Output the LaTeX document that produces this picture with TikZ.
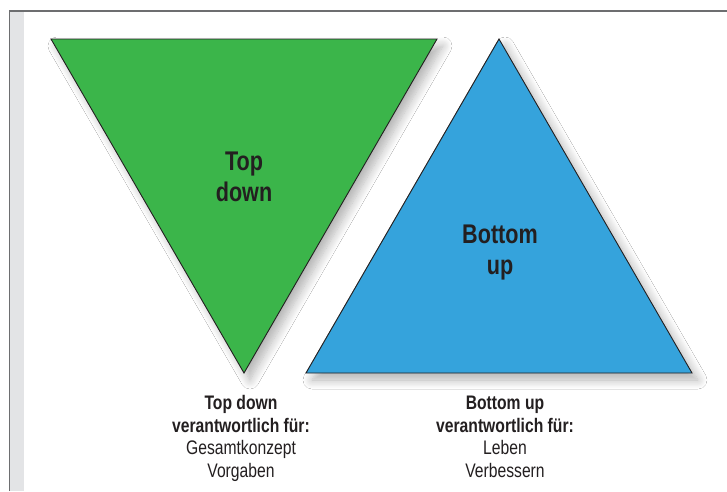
\documentclass[tikz,border=0pt]{standalone}
\usepackage{fontspec}
\setmainfont{Liberation Sans}[FakeStretch=0.8]
\usetikzlibrary{shadows.blur}
\definecolor{tdgreen}{HTML}{3BB54A}
\definecolor{bublue}{HTML}{35A3DC}
\definecolor{ink}{HTML}{231F20}
\definecolor{frameline}{HTML}{6D6E70}
\definecolor{framebar}{HTML}{E3E4E6}
\tikzset{
  tri/.style={draw=ink, line width=0.9pt, line join=miter,
    blur shadow={shadow xshift=6pt, shadow yshift=-7pt, shadow blur radius=9pt, shadow blur steps=12, shadow opacity=30}},
  biglabel/.style={text=ink, font=\bfseries\fontsize{27}{31}\selectfont, align=center, anchor=base, inner sep=0pt},
  caption/.style={text=ink, font=\fontsize{19.6}{22.4}\selectfont, align=center, anchor=base, inner sep=0pt}
}
\begin{document}
\begin{tikzpicture}[x=1pt,y=-1pt]
  \useasboundingbox (0,0) rectangle (727,491);
  \fill[white] (0,0) rectangle (727,491);
  % frame: grey side bar with dark rules
  \fill[framebar] (9,11) rectangle (24,491);
  \draw[frameline, line width=1.4pt] (9.2,491) -- (9.2,11) -- (727,11);
  % the two triangles
  \path[tri, fill=tdgreen] (51,39) -- (437,39) -- (244,373) -- cycle;
  \path[tri, fill=bublue] (499,39) -- (692,373) -- (306,373) -- cycle;
  % labels inside (anchored at the baseline of the last line)
  \node[biglabel] (td) at (244,201) {Top\\down};
  \node[biglabel] (bu) at (500,274.5) {Bottom\\up};
  % captions below
  \node[caption] (tdcap) at (241,477) {\textbf{Top down}\\\textbf{verantwortlich für:}\\Gesamtkonzept\\Vorgaben};
  \node[caption] (bucap) at (505,477) {\textbf{Bottom up}\\\textbf{verantwortlich für:}\\Leben\\Verbessern};
\end{tikzpicture}
\end{document}
